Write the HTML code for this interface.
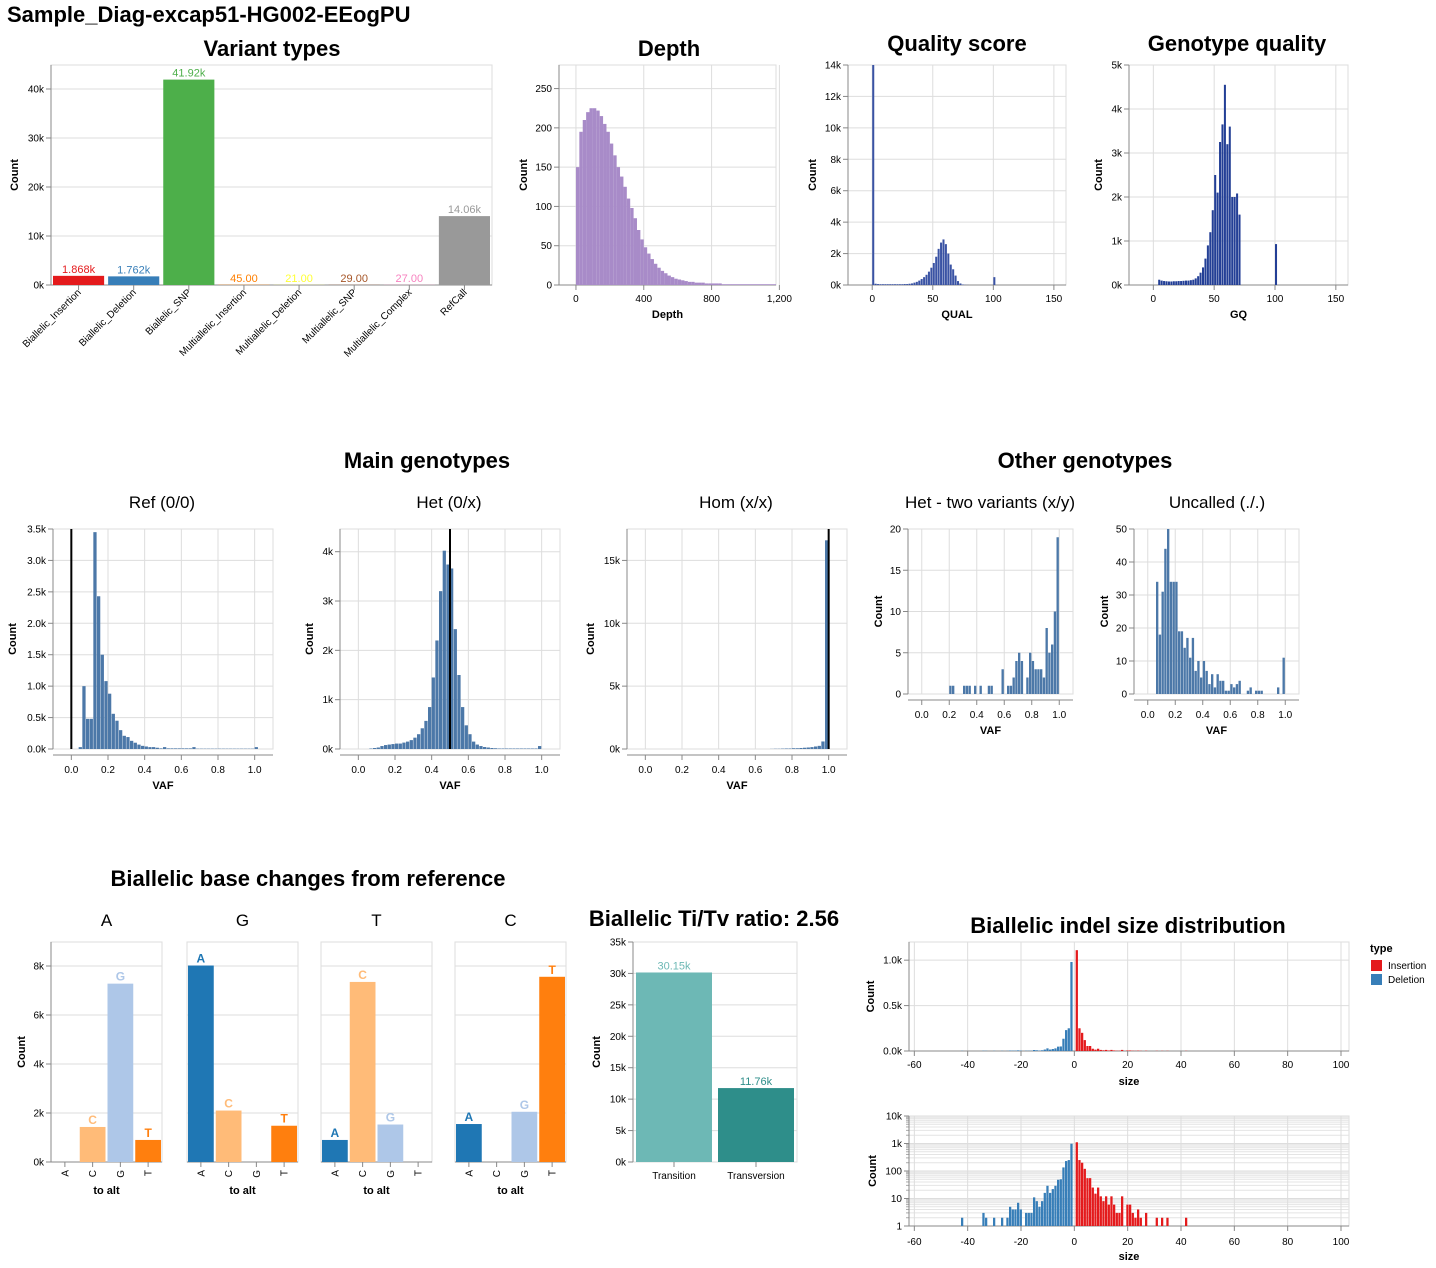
<!DOCTYPE html>
<html><head><meta charset="utf-8"><style>
html,body{margin:0;padding:0;background:#fff;}
svg{display:block;font-family:"Liberation Sans",Arial,sans-serif;}
</style></head><body>
<svg id="chart" width="1436" height="1268" viewBox="0 0 1436 1268"></svg>
<script>
// ---------- data ----------
const variantCats=["Biallelic_Insertion","Biallelic_Deletion","Biallelic_SNP","Multiallelic_Insertion","Multiallelic_Deletion","Multiallelic_SNP","Multiallelic_Complex","RefCall"];
const variantCounts=[1868,1762,41920,45,21,29,27,14060];
const variantLabels=["1.868k","1.762k","41.92k","45.00","21.00","29.00","27.00","14.06k"];
const variantColors=["#e41a1c","#377eb8","#4daf4a","#ff7f00","#ffff33","#a65628","#f781bf","#999999"];

const depthBinStart=0, depthBinWidth=20;
const depthCounts=[150,195,210,220,225,225,222,215,205,195,180,165,150,138,125,110,98,85,70,58,48,40,33,27,22,18,15,12,10,8,7,6,5,4,4,3,3,3,2,2,2,2,2,1,1,1,1,1,1,1,1,1,1,1,1,1,1,1,1];
const depthTicks=[0,400,800,1200];
const depthTickLabels=["0","400","800","1,200"];

const qualBinWidth=2;
const qualCounts=[14000,80,60,50,50,50,50,50,50,50,50,50,50,60,60,80,100,150,200,280,380,500,650,850,1100,1400,1800,2300,2700,2900,2600,2000,1300,1000,600,250,100,30,10,5,0,0,0,0,0,0,0,0,0,0,500];
const gqBinWidth=2;
const gqCounts=[0,0,120,100,90,85,80,80,85,85,90,90,95,100,100,110,120,150,200,280,400,600,900,1200,1700,2500,2100,3250,3650,4550,3200,3600,2000,2000,2080,1600,0,0,0,0,0,0,0,0,0,0,0,0,0,0,930];

const vafBinWidth=0.02;
const refVaf=[0,0,30,1000,480,480,3450,2430,1500,1080,880,560,450,300,210,190,130,100,70,50,40,30,30,20,10,30,10,10,10,10,10,10,10,30,5,5,5,5,5,5,5,5,5,5,5,5,5,5,5,5,30];
const hetVaf=[0,0,0,10,20,30,60,80,90,100,110,110,130,150,180,230,300,420,570,850,1450,2200,3200,4020,3740,3660,2430,1500,850,480,300,150,90,60,40,30,20,15,10,10,10,10,10,10,10,10,10,10,10,60,0];
const homVaf=[0,0,0,0,0,0,0,0,0,0,0,0,0,0,0,0,0,0,0,0,0,0,0,0,0,0,0,0,0,0,0,0,0,0,10,20,20,30,40,40,60,60,80,100,120,150,200,250,600,16600,0];
const hetTwoVaf=[0,0,0,0,0,0,0,0,0,0,1,1,0,0,0,1,1,1,0,1,0,1,0,0,1,1,0,0,0,3,0,1,1,2,4,5,4,0,2,5,4,3,3,3,2,8,5,6,10,19,0];
const uncalledVaf=[0,0,0,34,18,31,44,50,34,34,34,19,19,14,17,11,17,7,10,5,10,7,3,6,2,6,4,4,1,1,3,2,3,4,0,0,1,2,0,1,1,1,0,0,0,0,0,2,0,11,0];
const vafTicks=[0,0.2,0.4,0.6,0.8,1.0];
const vafTickLabels=["0.0","0.2","0.4","0.6","0.8","1.0"];

const bases=["A","C","G","T"];
const baseColors=["#1f77b4","#ffbb78","#aec7e8","#ff7f0e"];
const refBases=["A","G","T","C"];
const changesFromA=[0,1430,7280,900];
const changesFromG=[8020,2100,0,1480];
const changesFromT=[900,7350,1530,0];
const changesFromC=[1550,0,2050,7560];

const titvCats=["Transition","Transversion"];
const titvCounts=[30150,11760];
const titvLabels=["30.15k","11.76k"];
const titvColors=["#6db8b5","#2e8e8a"];

const delSizes=[-1,-2,-3,-4,-5,-6,-7,-8,-9,-10,-11,-12,-13,-14,-15,-16,-17,-18,-20,-21,-22,-23,-24,-25,-27,-30,-33,-34,-42];
const delCounts=[980,250,230,135,50,48,29,22,16,29,16,8,5,8,11,3,3,3,4,7,4,4,5,2,2,2,2,3,2];
const insSizes=[1,2,3,4,5,6,7,8,9,10,11,12,13,14,15,16,17,18,20,21,22,23,24,25,27,31,33,35,42];
const insCounts=[1110,250,200,120,55,55,25,15,25,12,8,12,6,12,6,3,3,12,6,6,3,2,4,2,3,2,2,2,2];

// ---------- helpers ----------
const NS='http://www.w3.org/2000/svg';
const svg=document.getElementById('chart');
function mk(tag,attrs,txt){const e=document.createElementNS(NS,tag);for(const k in attrs)e.setAttribute(k,attrs[k]);if(txt!=null)e.textContent=txt;svg.appendChild(e);return e;}
function lin(d0,d1,r0,r1){return v=>r0+(v-d0)/(d1-d0)*(r1-r0);}
function logScale(d0,d1,r0,r1){return v=>r0+(Math.log10(v)-Math.log10(d0))/(Math.log10(d1)-Math.log10(d0))*(r1-r0);}
function text(x,y,s,size,opts){opts=opts||{};const t=mk('text',{x:x,y:y,'font-size':size,'text-anchor':opts.anchor||'middle','font-weight':opts.bold?'bold':'normal',fill:opts.fill||'#000'},s);if(opts.rot)t.setAttribute('transform','rotate('+opts.rot+' '+x+' '+y+')');return t;}
function frame(o){const r=mk('rect',{x:o.x0,y:o.y0,width:o.x1-o.x0,height:o.y1-o.y0,fill:'none',stroke:'#ddd'});

}
function yAxis(o,sy,ticks,labels,title,tx){
 ticks.forEach((v,i)=>{const y=sy(v);
  mk('line',{x1:o.x0,x2:o.x1,y1:y,y2:y,stroke:'#ddd'});
  mk('line',{x1:o.x0-5,x2:o.x0,y1:y,y2:y,stroke:'#888'});
  if(labels[i]!==''){const t=text(o.x0-7,y+3.5,labels[i],10,{anchor:'end'});
  
  }
 });
 mk('line',{x1:o.x0,x2:o.x0,y1:o.y0,y2:o.y1,stroke:'#888'});
 const t=text(tx,(o.y0+o.y1)/2,title,11,{bold:true,rot:-90});
 
 
}
function xAxis(o,sx,ticks,labels,title,ly,ty,axisY,grid){
 axisY=axisY||o.y1;
 ticks.forEach((v,i)=>{const x=sx(v);
  if(grid!==false)mk('line',{x1:x,x2:x,y1:o.y0,y2:o.y1,stroke:'#ddd'});
  mk('line',{x1:x,x2:x,y1:axisY,y2:axisY+5,stroke:'#888'});
  const t=text(x,ly,labels[i],10);
  
  
 });
 mk('line',{x1:o.x0,x2:o.x1,y1:axisY,y2:axisY,stroke:'#888'});
 if(title){const t=text((o.x0+o.x1)/2,ty,title,11,{bold:true});
 
 }
}
function hist(o,sx,sy,starts,width,vals,color,gap){
 if(gap===undefined)gap=0.4;
 vals.forEach((v,i)=>{if(!(v>0))return;const x0=sx(starts(i)),x1=sx(starts(i)+width);const y=sy(v),yb=sy(0);
  const r=mk('rect',{x:x0,y:y,width:Math.max(0.8,x1-x0-gap),height:Math.max(0,yb-y),fill:color});
  
  
 });
}
function heading(x,y,s,size,bold,name){const t=text(x,y,s,size,{bold:bold});
 
 
 return t;}

const pt=heading(7,22,"Sample_Diag-excap51-HG002-EEogPU",22,true,'page-title');
pt.setAttribute('text-anchor','start');

// ---------- Variant types ----------
(function(){const o={x0:51,x1:492,y0:65,y1:285,name:'variant-types'};
 heading(272,56,"Variant types",22,true,'variant-types-title');
 const sy=lin(0,44900,o.y1,o.y0);
 frame(o);yAxis(o,sy,[0,10000,20000,30000,40000],["0k","10k","20k","30k","40k"],"Count",18);
 const bw=(o.x1-o.x0)/variantCats.length;
 mk('line',{x1:o.x0,x2:o.x1,y1:o.y1,y2:o.y1,stroke:'#888'});
 variantCats.forEach((c,i)=>{const x=o.x0+bw*i+2,w=bw-4,y=sy(variantCounts[i]);
  const r=mk('rect',{x:x,y:y,width:w,height:o.y1-y,fill:variantColors[i]});
  
  
  const l=text(x+w/2,y-3,variantLabels[i],11,{fill:variantColors[i]});
  
  
  const cx=o.x0+bw*(i+0.5);mk('line',{x1:cx,x2:cx,y1:o.y1,y2:o.y1+5,stroke:'#888'});
  const t=text(cx+3,293,c,10,{anchor:'end',rot:-45});
  
  
 });
})();

// ---------- Depth ----------
(function(){const o={x0:559,x1:776,y0:65,y1:285,name:'depth'};
 heading(669,56,"Depth",22,true,'depth-title');
 const sx=lin(-100,1180,o.x0,o.x1),sy=lin(0,280,o.y1,o.y0);
 frame(o);yAxis(o,sy,[0,50,100,150,200,250],["0","50","100","150","200","250"],"Count",527);
 xAxis(o,sx,depthTicks,depthTickLabels,"Depth",302,318);
 hist(o,sx,sy,i=>depthBinStart+i*depthBinWidth,depthBinWidth,depthCounts,'#a88bc8',0);
})();

// ---------- Quality score ----------
(function(){const o={x0:848,x1:1066,y0:65,y1:285,name:'quality-score'};
 heading(957,51,"Quality score",22,true,'quality-score-title');
 const sx=lin(-20,160,o.x0,o.x1),sy=lin(0,14000,o.y1,o.y0);
 frame(o);yAxis(o,sy,[0,2000,4000,6000,8000,10000,12000,14000],["0k","2k","4k","6k","8k","10k","12k","14k"],"Count",816);
 xAxis(o,sx,[0,50,100,150],["0","50","100","150"],"QUAL",302,318);
 hist(o,sx,sy,i=>i*qualBinWidth,qualBinWidth,qualCounts,'#3a53a4');
})();

// ---------- Genotype quality ----------
(function(){const o={x0:1129,x1:1348,y0:65,y1:285,name:'genotype-quality'};
 heading(1237,51,"Genotype quality",22,true,'genotype-quality-title');
 const sx=lin(-20,160,o.x0,o.x1),sy=lin(0,5000,o.y1,o.y0);
 frame(o);yAxis(o,sy,[0,1000,2000,3000,4000,5000],["0k","1k","2k","3k","4k","5k"],"Count",1102);
 xAxis(o,sx,[0,50,100,150],["0","50","100","150"],"GQ",302,318);
 hist(o,sx,sy,i=>i*gqBinWidth,gqBinWidth,gqCounts,'#233f96');
})();

// ---------- Genotype VAF panels ----------
heading(427,468,"Main genotypes",22,true,'main-genotypes-title');
heading(1085,468,"Other genotypes",22,true,'other-genotypes-title');
function vafPanel(o,sub,subX,subY,vals,yMax,yTicks,yLabels,ytx,lineAt,ly,ty){
 const t=text(subX,subY,sub,17);
 
 
 const sx=lin(-0.1,1.1,o.x0,o.x1),sy=lin(0,yMax,o.y1,o.y0);
 frame(o);yAxis(o,sy,yTicks,yLabels,"Count",ytx);
 xAxis(o,sx,vafTicks,vafTickLabels,"VAF",ly,ty,o.y1+6);
 hist(o,sx,sy,i=>i*vafBinWidth,vafBinWidth,vals,'#4c78a8');
 if(lineAt!==null){const x=sx(lineAt);const l=mk('line',{x1:x,x2:x,y1:o.y0,y2:o.y1,stroke:'#000','stroke-width':2});
  
  }
}
vafPanel({x0:53,x1:273,y0:529,y1:749,name:'ref'},"Ref (0/0)",162,508,refVaf,3500,[0,500,1000,1500,2000,2500,3000,3500],["0.0k","0.5k","1.0k","1.5k","2.0k","2.5k","3.0k","3.5k"],16,0,773,789);
vafPanel({x0:340,x1:560,y0:529,y1:749,name:'het'},"Het (0/x)",449,508,hetVaf,4460,[0,1000,2000,3000,4000],["0k","1k","2k","3k","4k"],313,0.5,773,789);
vafPanel({x0:627,x1:847,y0:529,y1:749,name:'hom'},"Hom (x/x)",736,508,homVaf,17500,[0,5000,10000,15000],["0k","5k","10k","15k"],594,1.0,773,789);
vafPanel({x0:908,x1:1073,y0:529,y1:694,name:'het-two-variants'},"Het - two variants (x/y)",990,508,hetTwoVaf,20,[0,5,10,15,20],["0","5","10","15","20"],882,null,718,734);
vafPanel({x0:1134,x1:1299,y0:529,y1:694,name:'uncalled'},"Uncalled (./.)",1217,508,uncalledVaf,50,[0,10,20,30,40,50],["0","10","20","30","40","50"],1108,null,718,734);

// ---------- Base changes ----------
heading(308,886,"Biallelic base changes from reference",22,true,'base-changes-title');
const baseData=[changesFromA,changesFromG,changesFromT,changesFromC];
const panelX=[51,187,321,455];
const panelW=111;
refBases.forEach((rb,p)=>{const o={x0:panelX[p],x1:panelX[p]+panelW,y0:942,y1:1162,name:'from-'+rb};
 const st=text(o.x0+panelW/2,926,rb,17);
 
 
 const sy=lin(0,8980,o.y1,o.y0);
 frame(o);
 if(p===0)yAxis(o,sy,[0,2000,4000,6000,8000],["0k","2k","4k","6k","8k"],"Count",25);
 else [2000,4000,6000,8000].forEach(v=>mk('line',{x1:o.x0,x2:o.x1,y1:sy(v),y2:sy(v),stroke:'#ddd'}));
 mk('line',{x1:o.x0,x2:o.x1,y1:o.y1,y2:o.y1,stroke:'#888'});
 const bw=(o.x1-o.x0)/4;
 bases.forEach((b,i)=>{const v=baseData[p][i];const cx=o.x0+bw*(i+0.5);
  mk('line',{x1:cx,x2:cx,y1:o.y1,y2:o.y1+5,stroke:'#888'});
  const tl=text(cx+3.5,1170,b,10,{anchor:'end',rot:-90});
  
  
  if(v>0){const y=sy(v);const r=mk('rect',{x:o.x0+bw*i+1,y:y,width:bw-2,height:o.y1-y,fill:baseColors[i]});
   
   
   const l=text(cx,y-3,b,12,{bold:true,fill:baseColors[i]});
   
   }
 });
 const at=text(o.x0+panelW/2,1194,"to alt",11,{bold:true});
 
 
});

// ---------- Ti/Tv ----------
(function(){const o={x0:633,x1:797,y0:942,y1:1162,name:'titv'};
 heading(714,926,"Biallelic Ti/Tv ratio: 2.56",22,true,'titv-title');
 const sy=lin(0,35000,o.y1,o.y0);
 frame(o);yAxis(o,sy,[0,5000,10000,15000,20000,25000,30000,35000],["0k","5k","10k","15k","20k","25k","30k","35k"],"Count",600);
 const bw=(o.x1-o.x0)/2;
 titvCats.forEach((c,i)=>{const y=sy(titvCounts[i]),x=o.x0+bw*i+3;
  const r=mk('rect',{x:x,y:y,width:bw-6,height:o.y1-y,fill:titvColors[i]});
  
  
  const l=text(x+(bw-6)/2,y-3,titvLabels[i],11,{fill:titvColors[i]});
  
  
  const cx=o.x0+bw*(i+0.5);mk('line',{x1:cx,x2:cx,y1:o.y1,y2:o.y1+5,stroke:'#888'});
  const t=text(cx,1179,c,10);
  
  
 });
})();

// ---------- Indel size ----------
heading(1128,933,"Biallelic indel size distribution",22,true,'indel-title');
const sizeTicks=[-60,-40,-20,0,20,40,60,80,100];
const sizeLabels=sizeTicks.map(String);
(function(){const o={x0:909,x1:1349,y0:942,y1:1051,name:'indel-linear'};
 const sx=lin(-62,103,o.x0,o.x1),sy=lin(0,1200,o.y1,o.y0);
 frame(o);yAxis(o,sy,[0,500,1000],["0.0k","0.5k","1.0k"],"Count",874);
 xAxis(o,sx,sizeTicks,sizeLabels,"size",1068,1085);
 delSizes.forEach((s,i)=>{const y=sy(delCounts[i]);const r=mk('rect',{x:sx(s-0.5),y:y,width:sx(1)-sx(0)-0.4,height:o.y1-y,fill:'#377eb8'});
  
  });
 insSizes.forEach((s,i)=>{const y=sy(insCounts[i]);const r=mk('rect',{x:sx(s-0.5),y:y,width:sx(1)-sx(0)-0.4,height:o.y1-y,fill:'#e41a1c'});
  
  });
})();
(function(){const o={x0:909,x1:1349,y0:1116,y1:1226,name:'indel-log'};
 const sx=lin(-62,103,o.x0,o.x1),sy=logScale(1,10000,o.y1,o.y0);
 frame(o);
 const minor=[];for(let d=1;d<10000;d*=10)for(let k=2;k<=9;k++)minor.push(d*k);
 minor.forEach(v=>{mk('line',{x1:o.x0,x2:o.x1,y1:sy(v),y2:sy(v),stroke:'#e4e4e4'});mk('line',{x1:o.x0-3,x2:o.x0,y1:sy(v),y2:sy(v),stroke:'#aaa'});});
 yAxis(o,sy,[1,10,100,1000,10000],["1","10","100","1k","10k"],"Count",876);
 xAxis(o,sx,sizeTicks,sizeLabels,"size",1245,1260);
 delSizes.forEach((s,i)=>{const y=sy(delCounts[i]);const r=mk('rect',{x:sx(s-0.5),y:y,width:sx(1)-sx(0)-0.4,height:Math.max(0,o.y1-y),fill:'#377eb8'});
  
  });
 insSizes.forEach((s,i)=>{const y=sy(insCounts[i]);const r=mk('rect',{x:sx(s-0.5),y:y,width:sx(1)-sx(0)-0.4,height:Math.max(0,o.y1-y),fill:'#e41a1c'});
  
  });
})();
// legend
(function(){const t=text(1370,952,"type",11,{bold:true,anchor:'start'});
 
 
 [["Insertion","#e41a1c",965],["Deletion","#377eb8",979]].forEach(e=>{
  const r=mk('rect',{x:1371,y:e[2]-5,width:11,height:11,fill:e[1]});
  
  
  const l=text(1388,e[2]+4,e[0],10,{anchor:'start'});
  
  
 });
})();
</script>
</body></html>
